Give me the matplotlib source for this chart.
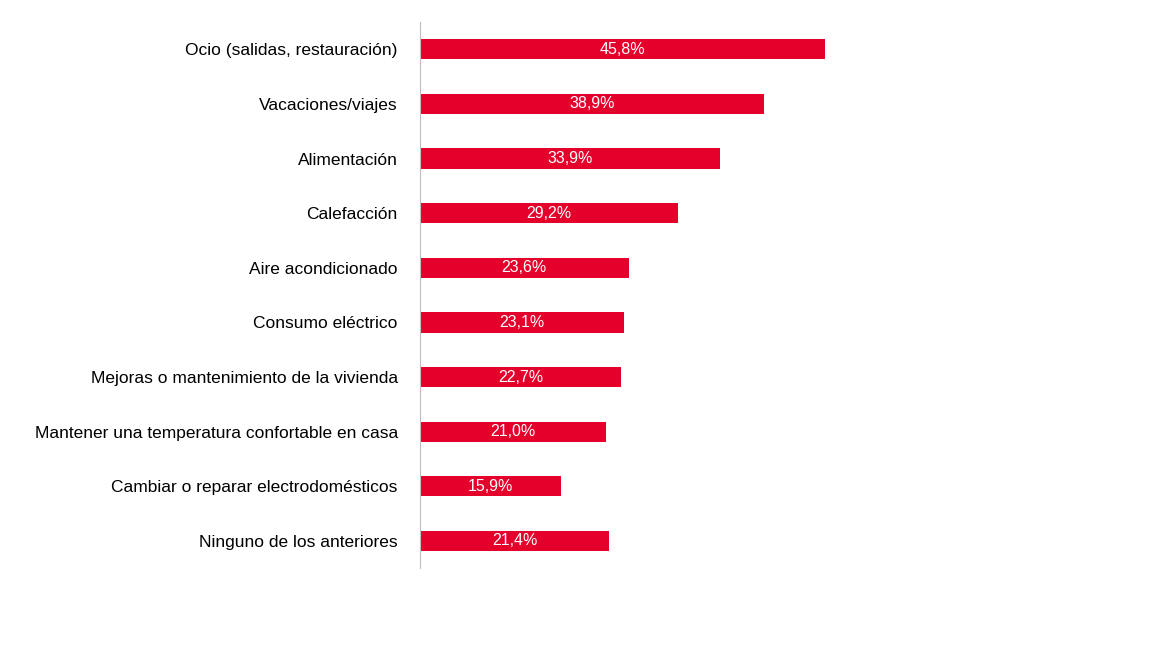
import matplotlib
matplotlib.use("Agg")
import matplotlib.pyplot as plt

categories = ["Ocio (salidas, restauración)", "Vacaciones/viajes", "Alimentación", "Calefacción",
              "Aire acondicionado", "Consumo eléctrico", "Mejoras o mantenimiento de la vivienda",
              "Mantener una temperatura confortable en casa", "Cambiar o reparar electrodomésticos",
              "Ninguno de los anteriores"]
values = [45.8, 38.9, 33.9, 29.2, 23.6, 23.1, 22.7, 21.0, 15.9, 21.4]

plt.rcParams['font.family'] = ['Liberation Sans', 'DejaVu Sans']
fig = plt.figure(figsize=(11.52, 6.48), dpi=100)
ax = fig.add_axes([0.3646, 0.123, 0.6154, 0.843])
pos = list(range(len(categories)))
ax.barh(pos, values, height=0.37, color="#E4002B")
for p, v in zip(pos, values):
    ax.text(v / 2, p, f"{v:.1f}%".replace(".", ","), ha="center", va="center",
            color="white", fontsize=11.5)
ax.set_yticks(pos)
ax.set_yticklabels(categories, fontsize=12.5)
ax.set_ylim(9.5, -0.5)
ax.set_xlim(0, 80.2)
ax.set_xticks([])
for s in ["top", "right", "bottom"]:
    ax.spines[s].set_visible(False)
ax.spines["left"].set_color("#BFBFBF")
ax.tick_params(axis="y", length=0, pad=16)
fig.savefig("out.png")
